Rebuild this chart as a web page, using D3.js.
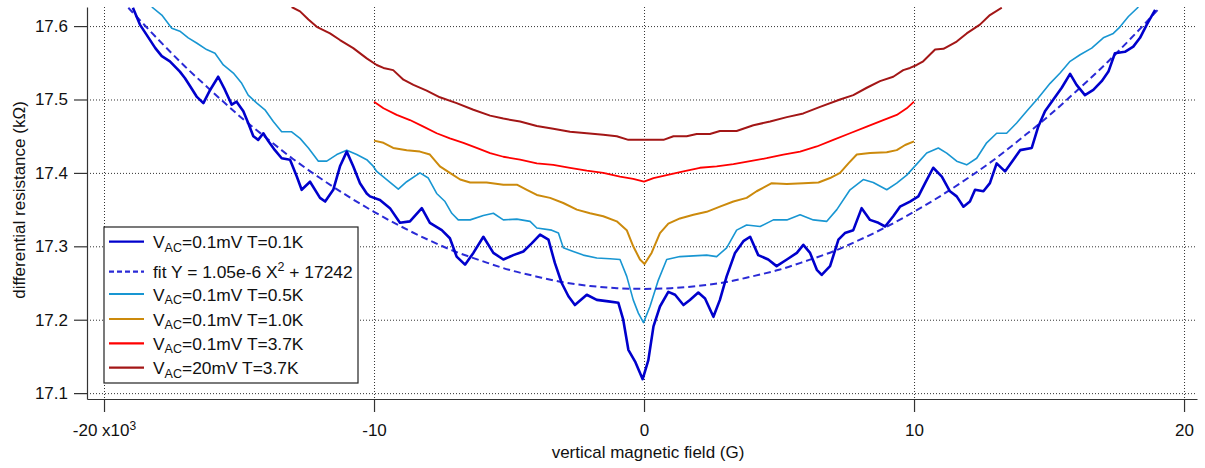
<!DOCTYPE html>
<html lang="en">
<head>
<meta charset="UTF-8">
<script src="https://d3js.org/d3.v7.min.js"></script>
<style>
  body { margin: 0; background: #fff; }
  #plot { position: absolute; left: 0; top: 0; width: 1205px; height: 468px; }
  text { font-family: "Liberation Sans", Arial, sans-serif; fill: #111; }
</style>
</head>
<body>
<div id="plot"></div>
<script>
// field in kG, resistance in kOhm
const fieldT01 = [-18.93,-18.67,-18.42,-18.10,-17.86,-17.56,-17.19,-17.00,-16.81,-16.57,-16.32,-16.07,-15.77,-15.52,-15.27,-15.09,-14.84,-14.66,-14.47,-14.29,-14.10,-13.91,-13.67,-13.42,-13.11,-12.86,-12.68,-12.37,-12.00,-11.81,-11.51,-11.26,-11.01,-10.77,-10.52,-10.27,-10.15,-9.78,-9.41,-9.04,-8.67,-8.23,-7.93,-7.49,-7.19,-6.94,-6.63,-6.32,-5.95,-5.58,-5.21,-4.84,-4.47,-4.16,-3.85,-3.54,-3.30,-3.05,-2.80,-2.56,-2.12,-1.75,-1.32,-0.95,-0.77,-0.58,-0.33,-0.05,0.16,0.35,0.59,0.90,1.15,1.46,1.70,2.01,2.26,2.57,2.81,3.06,3.37,3.68,3.93,4.23,4.60,4.91,5.29,5.66,5.90,6.15,6.40,6.58,6.89,7.20,7.44,7.75,8.06,8.37,8.68,8.93,9.23,9.48,9.85,10.16,10.41,10.71,11.03,11.33,11.58,11.83,12.07,12.26,12.57,12.81,13.06,13.37,13.68,13.93,14.36,14.60,14.85,15.16,15.47,15.78,16.02,16.33,16.64,16.95,17.20,17.44,17.81,18.12,18.37,18.62,18.93];
const resT01 = [17.625,17.602,17.588,17.570,17.559,17.552,17.538,17.529,17.518,17.504,17.495,17.513,17.531,17.513,17.493,17.497,17.484,17.468,17.450,17.445,17.454,17.443,17.431,17.420,17.418,17.395,17.377,17.388,17.366,17.361,17.377,17.409,17.429,17.409,17.386,17.372,17.368,17.363,17.352,17.332,17.334,17.352,17.332,17.322,17.311,17.286,17.275,17.291,17.313,17.291,17.282,17.288,17.293,17.304,17.316,17.309,17.277,17.250,17.232,17.220,17.234,17.227,17.225,17.223,17.200,17.159,17.143,17.119,17.145,17.191,17.218,17.238,17.234,17.220,17.227,17.237,17.229,17.204,17.227,17.259,17.291,17.307,17.313,17.288,17.282,17.273,17.282,17.291,17.302,17.291,17.268,17.261,17.273,17.309,17.318,17.322,17.352,17.336,17.332,17.327,17.341,17.354,17.361,17.368,17.386,17.407,17.395,17.375,17.368,17.354,17.361,17.377,17.375,17.386,17.413,17.402,17.418,17.431,17.434,17.463,17.484,17.500,17.516,17.535,17.520,17.506,17.513,17.525,17.538,17.563,17.565,17.572,17.584,17.602,17.622];

const fitField = [-19.1,-18,-17,-16,-15,-14,-13,-12,-11,-10,-9,-8,-7,-6,-5,-4,-3,-2,-1,0,1,2,3,4,5,6,7,8,9,10,11,12,13,14,15,16,17,18,19.1];
const fitRes = [17.625,17.582,17.545,17.511,17.478,17.448,17.419,17.393,17.369,17.347,17.327,17.309,17.293,17.280,17.268,17.259,17.251,17.246,17.243,17.242,17.243,17.246,17.251,17.259,17.268,17.280,17.293,17.309,17.327,17.347,17.369,17.393,17.419,17.448,17.478,17.511,17.545,17.582,17.625];

const fieldT05 = [-18.23,-17.86,-17.49,-17.19,-16.88,-16.57,-16.20,-15.89,-15.58,-15.21,-14.90,-14.66,-14.34,-14.04,-13.73,-13.42,-13.05,-12.74,-12.43,-12.06,-11.75,-11.38,-11.01,-10.64,-10.27,-10.05,-9.90,-9.53,-9.10,-8.79,-8.30,-7.99,-7.68,-7.37,-7.12,-6.88,-6.44,-5.95,-5.58,-5.21,-4.71,-4.22,-3.97,-3.42,-3.17,-2.99,-2.62,-2.25,-1.75,-1.26,-0.89,-0.64,-0.40,-0.21,-0.02,0.22,0.53,0.84,1.33,1.83,2.32,2.69,3.06,3.43,3.80,4.30,4.79,5.29,5.78,6.27,6.77,7.14,7.63,8.12,8.49,8.99,9.36,9.73,10.10,10.47,10.90,11.21,11.58,11.95,12.32,12.69,13.06,13.43,13.80,14.17,14.60,15.04,15.41,15.78,16.15,16.58,17.01,17.38,17.63,17.94,18.31];
const resT05 = [17.626,17.615,17.597,17.593,17.584,17.577,17.568,17.563,17.547,17.536,17.522,17.506,17.495,17.486,17.470,17.456,17.456,17.447,17.434,17.416,17.416,17.425,17.431,17.425,17.418,17.410,17.402,17.391,17.378,17.388,17.400,17.393,17.372,17.361,17.345,17.336,17.336,17.342,17.345,17.336,17.337,17.334,17.325,17.322,17.318,17.298,17.293,17.288,17.284,17.283,17.282,17.259,17.227,17.209,17.196,17.218,17.254,17.282,17.286,17.287,17.288,17.286,17.298,17.322,17.329,17.327,17.336,17.336,17.343,17.336,17.334,17.350,17.377,17.391,17.387,17.377,17.386,17.397,17.412,17.427,17.434,17.427,17.416,17.411,17.420,17.441,17.454,17.454,17.468,17.484,17.502,17.522,17.536,17.552,17.561,17.570,17.584,17.590,17.599,17.613,17.626];

const fieldT10 = [-10.00,-9.65,-9.29,-8.79,-8.30,-7.93,-7.56,-7.19,-6.81,-6.44,-5.83,-5.21,-4.71,-4.34,-3.97,-3.48,-2.99,-2.49,-2.00,-1.51,-1.01,-0.64,-0.40,-0.15,0.02,0.28,0.59,0.90,1.33,1.83,2.32,2.81,3.31,3.80,4.17,4.73,5.29,5.90,6.46,6.89,7.26,7.57,7.88,8.37,8.99,9.36,9.67,10.00];
const resT10 = [17.444,17.441,17.434,17.431,17.429,17.425,17.409,17.400,17.391,17.387,17.387,17.384,17.384,17.377,17.370,17.366,17.359,17.350,17.345,17.341,17.334,17.322,17.300,17.282,17.276,17.291,17.318,17.331,17.338,17.343,17.347,17.354,17.361,17.366,17.375,17.386,17.385,17.386,17.387,17.393,17.400,17.413,17.425,17.427,17.428,17.431,17.438,17.443];

const fieldT37 = [-10.00,-9.65,-9.16,-8.67,-8.17,-7.68,-7.19,-6.69,-6.20,-5.70,-5.21,-4.59,-3.97,-3.36,-2.74,-2.12,-1.51,-0.89,-0.40,0.00,0.35,0.84,1.46,2.07,2.69,3.31,3.93,4.54,5.16,5.78,6.40,7.01,7.63,8.25,8.86,9.36,9.73,10.00];
const resT37 = [17.497,17.488,17.479,17.472,17.463,17.454,17.447,17.441,17.434,17.427,17.422,17.418,17.413,17.411,17.407,17.403,17.400,17.395,17.392,17.388,17.393,17.397,17.402,17.407,17.409,17.412,17.416,17.420,17.425,17.429,17.436,17.445,17.454,17.463,17.472,17.479,17.488,17.497];

const field20mV = [-13.05,-12.74,-12.43,-12.12,-11.63,-11.26,-10.77,-10.27,-9.90,-9.65,-9.29,-8.91,-8.54,-8.05,-7.56,-6.94,-6.32,-5.70,-5.21,-4.59,-3.97,-3.36,-2.74,-2.12,-1.51,-1.01,-0.58,0.00,0.72,1.09,1.58,1.95,2.44,2.81,3.43,4.05,4.67,5.29,5.90,6.52,7.26,7.75,8.25,8.74,9.23,9.60,9.85,10.10,10.34,10.78,11.09,11.58,11.95,12.44,12.81,13.25];
const res20mV = [17.626,17.620,17.609,17.599,17.590,17.581,17.570,17.556,17.547,17.543,17.540,17.527,17.520,17.512,17.503,17.495,17.486,17.478,17.474,17.470,17.464,17.460,17.456,17.454,17.452,17.450,17.445,17.445,17.445,17.450,17.450,17.453,17.453,17.457,17.457,17.465,17.470,17.476,17.481,17.490,17.500,17.506,17.516,17.525,17.531,17.540,17.543,17.547,17.552,17.568,17.569,17.579,17.590,17.602,17.615,17.625];

const xTicks = [-20, -10, 0, 10, 20];
const yTicks = [17.1, 17.2, 17.3, 17.4, 17.5, 17.6];

// legend order as in the figure
const series = [
  {key: "t01", sub: true, pre: "V", mid: "AC", post: "=0.1mV T=0.1K", field: fieldT01, res: resT01, color: "#0000cc", width: 2.6},
  {key: "fit", sub: false, field: fitField, res: fitRes, color: "#2a2ad6", width: 2, dash: "7,4"},
  {key: "t05", sub: true, pre: "V", mid: "AC", post: "=0.1mV T=0.5K", field: fieldT05, res: resT05, color: "#1896d2", width: 1.6},
  {key: "t10", sub: true, pre: "V", mid: "AC", post: "=0.1mV T=1.0K", field: fieldT10, res: resT10, color: "#cc8a0c", width: 2},
  {key: "t37", sub: true, pre: "V", mid: "AC", post: "=0.1mV T=3.7K", field: fieldT37, res: resT37, color: "#ff0000", width: 1.8},
  {key: "v20", sub: true, pre: "V", mid: "AC", post: "=20mV T=3.7K", field: field20mV, res: res20mV, color: "#a31616", width: 2}
];

function draw() {
  const margin = {top: 7, right: 8, bottom: 69, left: 87};
  const W = 1205, H = 468;
  const visWidth = W - margin.left - margin.right;
  const visHeight = H - margin.top - margin.bottom;

  const svg = d3.select("#plot").append("svg")
      .attr("width", W)
      .attr("height", H);
  const g = svg.append("g")
      .attr("transform", `translate(${margin.left}, ${margin.top})`);

  const x = d3.scaleLinear().domain([-20.63, 20.48]).range([0, visWidth]);
  const y = d3.scaleLinear().domain([17.092, 17.626]).range([visHeight, 0]);

  // dotted grid
  const grid = g.append("g").attr("stroke", "#333").attr("stroke-width", 1).attr("stroke-dasharray", "1,2");
  grid.selectAll("line.gx").data(xTicks).join("line")
      .attr("x1", d => x(d) + 0.5).attr("x2", d => x(d) + 0.5)
      .attr("y1", 0).attr("y2", visHeight);
  grid.selectAll("line.gy").data(yTicks).join("line")
      .attr("x1", 0).attr("x2", visWidth)
      .attr("y1", d => y(d) + 0.5).attr("y2", d => y(d) + 0.5);

  // traces
  svg.append("clipPath").attr("id", "clip")
    .append("rect").attr("width", visWidth).attr("height", visHeight);
  const traces = g.append("g").attr("clip-path", "url(#clip)");
  const line = d3.line().x(d => x(d[0])).y(d => y(d[1]));
  const smooth = d3.line().x(d => x(d[0])).y(d => y(d[1])).curve(d3.curveCatmullRom);
  const drawOrder = ["v20", "t37", "t10", "t05", "fit", "t01"];
  drawOrder.forEach(k => {
    const s = series.find(d => d.key === k);
    const pts = s.field.map((f, i) => [f, s.res[i]]);
    traces.append("path")
        .attr("d", (k === "fit" ? smooth : line)(pts))
        .attr("fill", "none")
        .attr("stroke", s.color)
        .attr("stroke-width", s.width)
        .attr("stroke-linejoin", "round")
        .attr("stroke-dasharray", s.dash || null);
  });

  // axes
  const yAxis = d3.axisLeft(y).tickValues(yTicks).tickSize(13).tickSizeOuter(0)
      .tickPadding(6).tickFormat(d3.format(".1f"));
  const yG = g.append("g").call(yAxis);
  const xAxis = d3.axisBottom(x).tickValues(xTicks).tickSize(13).tickSizeOuter(0)
      .tickPadding(12).tickFormat(d => d);
  const xG = g.append("g").attr("transform", `translate(0, ${visHeight})`).call(xAxis);

  [yG, xG].forEach(a => {
    a.attr("font-size", 17).attr("font-family", null);
    a.selectAll("path, line").attr("stroke", "#333").attr("stroke-width", 1.2);
    a.selectAll("text").attr("fill", "#111");
  });

  // -20 x10^3 label
  xG.selectAll(".tick text").filter(d => d === -20)
      .text("-20 x10")
    .append("tspan").attr("font-size", 12).attr("dy", -6).text("3");

  // axis titles
  svg.append("text")
      .attr("x", 648).attr("y", 458)
      .attr("text-anchor", "middle")
      .attr("font-size", 17)
      .text("vertical magnetic field (G)");
  svg.append("text")
      .attr("transform", "rotate(-90)")
      .attr("x", -200).attr("y", 24.5)
      .attr("text-anchor", "middle")
      .attr("font-size", 17)
      .text("differential resistance (k\u03A9)");

  // legend
  const lg = svg.append("g").attr("transform", "translate(104, 227)");
  lg.append("rect").attr("width", 254).attr("height", 156)
      .attr("fill", "#fff").attr("stroke", "#222").attr("stroke-width", 1.2);
  const rowY = [14.7, 44.7, 67, 92, 116.3, 140.7];
  series.forEach((s, i) => {
    const row = lg.append("g").attr("transform", `translate(0, ${rowY[i]})`);
    row.append("line").attr("x1", 5).attr("x2", 40)
        .attr("stroke", s.color).attr("stroke-width", 2.2)
        .attr("stroke-dasharray", s.dash ? "5,3" : null);
    const t = row.append("text").attr("x", 49).attr("y", 6.6).attr("font-size", 17.4);
    if (s.sub) {
      t.append("tspan").text(s.pre);
      t.append("tspan").attr("font-size", 12.5).attr("dy", 3.5).text(s.mid);
      t.append("tspan").attr("dy", -3.5).text(s.post);
    } else {
      t.append("tspan").text("fit Y = 1.05e-6 X");
      t.append("tspan").attr("font-size", 12.5).attr("dy", -7).text("2");
      t.append("tspan").attr("dy", 7).text(" + 17242");
    }
  });
}

window.onload = draw;
</script>
</body>
</html>
